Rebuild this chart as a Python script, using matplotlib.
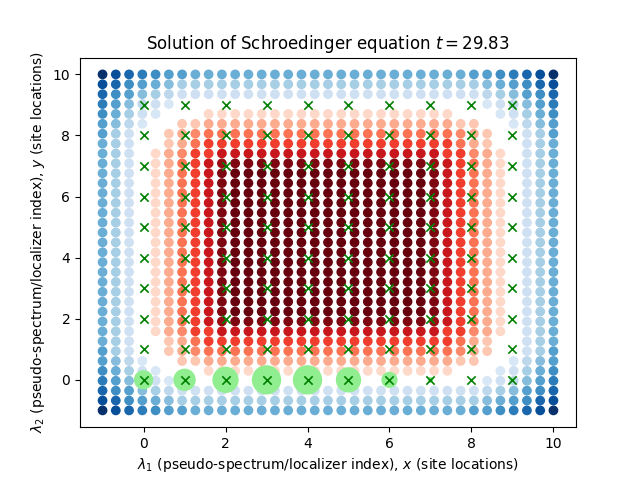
import numpy as np
import matplotlib
matplotlib.use("Agg")
import matplotlib.pyplot as plt

grid_rows = [
    "abcdeffgggggggggggggggggggggffedcba",
    "bcefghiiiiiiiiiiiiiiiiiiiiiiihgfecb",
    "cefhijkkkkkkkkkkkkkkkkkkkkkkkjihfec",
    "dfhjkl.......................lkjhfd",
    "egikl...1111111111111111111...lkige",
    "fhjl..223333333333333333333 22..ljhf".replace(" ", ""),
    "fik..2345555555555555555555432..kif",
    "gik..2356666666666666666666532..kig",
    "gik.1346677777777777777777664 31.kig".replace(" ", ""),
    "gik.135678999999999999999876531.kig",
    "gik.135679000000000000000976531.kig",
    "gik.135679000000000000000976531.kig",
    "gik.135679000000000000000976531.kig",
    "gik.135679000000000000000976531.kig",
    "gik.135679000000000000000976531.kig",
    "gik.135679000000000000000976531.kig",
    "gik.135679000000000000000976531.kig",
    "gik.135679000000000000000976531.kig",
    "gik.135679000000000000000976531.kig",
    "gik.135679000000000000000976531.kig",
    "gik.135679000000000000000976531.kig",
    "gik.135679000000000000000976531.kig",
    "gik.135679000000000000000976531.kig",
    "gik.135679000000000000000976531.kig",
    "gik.135679000000000000000976531.kig",
    "gik.135678999999999999999876531.kig",
    "gik.1346677777777777777777664 31.kig".replace(" ", ""),
    "gik..2356666666666666666666532..kig",
    "fik..2345555555555555555555432..kif",
    "fhjl..223333333333333333333 22..ljhf".replace(" ", ""),
    "egikl...1111111111111111111...lkige",
    "dfhjkl.......................lkjhfd",
    "cefhijkkkkkkkkkkkkkkkkkkkkkkkjihfec",
    "bcefghiiiiiiiiiiiiiiiiiiiiiiihgfecb",
    "abcdeffgggggggggggggggggggggffedcba",
]
blue_levels = {"a": 1.0, "b": 0.88, "c": 0.79, "d": 0.71, "e": 0.64, "f": 0.57,
               "g": 0.5, "h": 0.43, "i": 0.35, "j": 0.28, "k": 0.21, "l": 0.16}
red_levels = {"1": 0.15, "2": 0.21, "3": 0.3, "4": 0.4, "5": 0.47, "6": 0.62,
              "7": 0.76, "8": 0.9, "9": 0.95, "0": 1.0}
site_x = [0, 1, 2, 3, 4, 5, 6, 7, 8, 9]
site_y = [0, 1, 2, 3, 4, 5, 6, 7, 8, 9]
bottom_row_x = [0, 1, 2, 3, 4, 5, 6, 7, 8, 9]
bottom_row_y = [0, 0, 0, 0, 0, 0, 0, 0, 0, 0]
bottom_row_s = [166, 228, 321, 404, 404, 296, 115, 10, 1, 5]

grid = np.linspace(-1, 10, 35)
bx, by, bc, rx, ry, rc = [], [], [], [], [], []
for r, row in enumerate(grid_rows):
    for c, ch in enumerate(row):
        if ch in blue_levels:
            bx.append(grid[c]); by.append(grid[34 - r]); bc.append(blue_levels[ch])
        elif ch in red_levels:
            rx.append(grid[c]); ry.append(grid[34 - r]); rc.append(red_levels[ch])

fig, ax = plt.subplots(figsize=(6.4, 4.8), dpi=100)
ax.scatter(bx, by, c=bc, cmap="Blues", vmin=0, vmax=1)
ax.scatter(rx, ry, c=rc, cmap="Reds", vmin=0, vmax=1)
ax.scatter(bottom_row_x, bottom_row_y, s=bottom_row_s, c="lightgreen")
sx, sy = np.meshgrid(site_x, site_y)
ax.scatter(sx.ravel(), sy.ravel(), marker="x", c="green", linewidths=1.2)
ax.set_title("Solution of Schroedinger equation $t = 29.83$")
ax.set_xlabel(r"$\lambda_1$ (pseudo-spectrum/localizer index), $x$ (site locations)")
ax.set_ylabel(r"$\lambda_2$ (pseudo-spectrum/localizer index), $y$ (site locations)")
fig.savefig("out.png", dpi=100)
